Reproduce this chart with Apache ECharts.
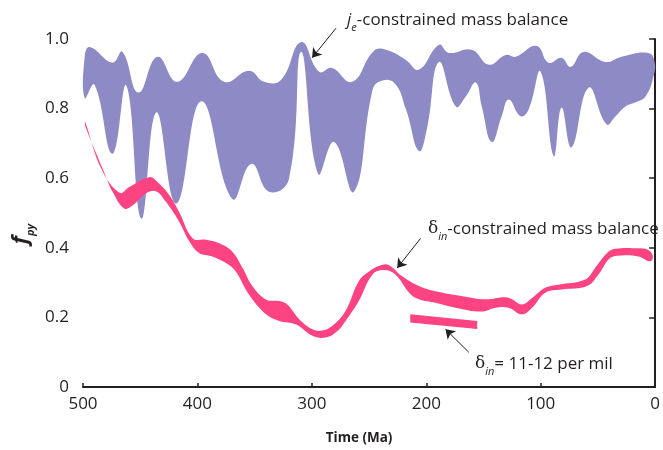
<!DOCTYPE html>
<html>
<head>
<meta charset="utf-8">
<script src="https://cdn.jsdelivr.net/npm/echarts@6/dist/echarts.min.js"></script>
<style>
  html, body { margin: 0; padding: 0; background: #fff; }
  #chart { width: 663px; height: 450px; }
</style>
</head>
<body>
<div id="chart"></div>
<script>
// axis ticks
const xTickLabels = ["0", "100", "200", "300", "400", "500"];
const yTickLabels = ["0", "0.2", "0.4", "0.6", "0.8", "1.0"];

// je-constrained mass balance band, [time Ma, f_py]
const jeUpper = [
  [498.5, 0.95], [494, 0.977], [474.3, 0.932], [465.5, 0.963], [451.6, 0.846],
  [435, 0.949], [417.6, 0.877], [395.8, 0.96], [376.6, 0.877], [354.8, 0.909],
  [341.7, 0.877], [326.8, 0.883], [309.4, 0.991], [293.7, 0.906], [282.4, 0.917],
  [264.9, 0.877], [246, 0.965], [235.3, 0.969], [217.8, 0.94], [206.5, 0.912],
  [189, 0.983], [180.3, 0.96], [160.3, 0.969], [145.4, 0.926], [130.6, 0.954],
  [121.9, 0.949], [103.6, 0.98], [93.1, 0.932], [81.8, 0.946], [73.9, 0.92],
  [62.6, 0.963], [43.4, 0.934], [29.4, 0.949], [5.9, 0.96], [0.5, 0.934]
];
const jeLower = [
  [498.5, 0.83], [490, 0.869], [474.3, 0.67], [462.1, 0.866], [449, 0.484],
  [435.9, 0.789], [418.4, 0.527], [396.6, 0.821], [369.6, 0.541], [353, 0.641],
  [337.4, 0.561], [320, 0.598], [309.4, 0.963], [294.6, 0.613], [280.6, 0.704],
  [263.2, 0.561], [247.5, 0.846], [241.3, 0.877], [228.3, 0.875], [217.8, 0.798],
  [206.5, 0.678], [199.5, 0.741], [189, 0.934], [174.2, 0.806], [165.5, 0.835],
  [156.7, 0.875], [151.5, 0.806], [142.8, 0.704], [134.1, 0.778], [128, 0.826],
  [117.5, 0.778], [110.5, 0.798], [100.1, 0.906], [88.7, 0.664], [81.8, 0.803],
  [73, 0.689], [58.2, 0.86], [42.5, 0.755], [34.6, 0.778], [25.9, 0.806],
  [17.2, 0.818], [8.4, 0.835], [1.5, 0.892]
];

// delta_in-constrained mass balance band
const dinUpper = [
  [498, 0.761], [484, 0.627], [468, 0.558], [459.5, 0.575], [442, 0.603],
  [435, 0.589], [424.5, 0.551], [416, 0.503], [404, 0.427], [392.5, 0.423],
  [381, 0.413], [369.5, 0.389], [360.5, 0.342], [352, 0.29], [340, 0.251],
  [328.5, 0.247], [321.5, 0.237], [311, 0.195], [299.5, 0.166], [291, 0.162],
  [282, 0.176], [270.5, 0.219], [259, 0.304], [250, 0.332], [238.5, 0.351],
  [232.5, 0.35], [221, 0.318], [206.5, 0.29], [192, 0.275], [168.5, 0.261],
  [148.5, 0.252], [131, 0.258], [125, 0.252], [116.5, 0.237], [107.5, 0.256],
  [96, 0.285], [84.5, 0.294], [61, 0.309], [52.5, 0.342], [42, 0.385],
  [35, 0.397], [17.5, 0.399], [6, 0.394], [2, 0.375]
];
const dinLower = [
  [498, 0.749], [481, 0.613], [474, 0.56], [464, 0.513], [456.5, 0.522],
  [445, 0.556], [436, 0.562], [427.5, 0.532], [416, 0.475], [407, 0.418],
  [398.5, 0.385], [387, 0.375], [375, 0.356], [366.5, 0.332], [355, 0.266],
  [340, 0.209], [328.5, 0.19], [314, 0.18], [299.5, 0.147], [288, 0.142],
  [279, 0.157], [270.5, 0.19], [259, 0.247], [247, 0.323], [237, 0.336],
  [227, 0.323], [215, 0.271], [206.5, 0.252], [192, 0.242], [174.5, 0.228],
  [151.5, 0.217], [139.5, 0.228], [128, 0.228], [116.5, 0.209], [107.5, 0.228],
  [96, 0.271], [81.5, 0.28], [59.5, 0.29], [49.5, 0.323], [39.5, 0.37],
  [29, 0.378], [14.5, 0.375], [4.5, 0.361]
];

// delta_in = 11-12 per mil
const dinFixedUpper = [[214, 0.209], [155.5, 0.19]];
const dinFixedLower = [[214, 0.185], [155.5, 0.167]];

// annotation arrows [from, to]
const arrows = [
  [[278.9, 1.031], [299.8, 0.946]],
  [[205, 0.427], [225.4, 0.342]],
  [[162.9, 0.1], [183.2, 0.166]]
];

const ink = "#231f20";
const font = "Open Sans";

function band(name, upper, lower, color, smooth) {
  const outline = upper.concat(lower.slice().reverse());
  return {
    name,
    type: "custom",
    coordinateSystem: "cartesian2d",
    silent: true,
    data: outline,
    encode: { x: 0, y: 1 },
    renderItem(params, api) {
      if (params.dataIndex !== 0) return null;
      return {
        type: "polygon",
        shape: { points: outline.map((p) => api.coord(p)), smooth },
        style: { fill: color }
      };
    }
  };
}

const chart = echarts.init(document.getElementById("chart"));

chart.setOption({
  animation: false,
  textStyle: { fontFamily: font },
  grid: { left: 83, right: 7, top: 39, bottom: 60 },
  xAxis: {
    type: "value",
    inverse: true,
    min: 0,
    max: 500,
    interval: 100,
    name: "Time (Ma)",
    nameLocation: "middle",
    nameGap: 44,
    nameTextStyle: {
      color: ink, fontSize: 13.5, fontWeight: "bold", fontFamily: font,
      padding: [0, 20, 0, 0]
    },
    axisLine: { lineStyle: { color: ink, width: 2 } },
    axisTick: { inside: true, length: 4, lineStyle: { color: ink, width: 1.5 } },
    axisLabel: {
      color: ink,
      fontSize: 17,
      margin: 9,
      formatter: (v) => xTickLabels[Math.round(v / 100)]
    },
    splitLine: { show: false }
  },
  yAxis: {
    type: "value",
    min: 0,
    max: 1,
    interval: 0.2,
    axisLine: { show: true, lineStyle: { color: ink, width: 2 } },
    axisTick: { show: true, length: 6, lineStyle: { color: ink, width: 1.5 } },
    axisLabel: {
      color: ink,
      fontSize: 17,
      margin: 14,
      formatter: (v) => yTickLabels[Math.round(v / 0.2)]
    },
    splitLine: { show: false }
  },
  graphic: [
    {
      type: "text",
      x: 21,
      y: 234,
      rotation: Math.PI / 2,
      style: {
        text: "{f|f}{s|py}",
        align: "center",
        verticalAlign: "middle",
        fill: ink,
        rich: {
          f: { fontSize: 22, fontWeight: "bold", fontStyle: "italic", fontFamily: font, fill: ink },
          s: { fontSize: 11, fontWeight: "bold", fontStyle: "italic", fontFamily: font, fill: ink, lineHeight: 30, verticalAlign: "bottom" }
        }
      }
    },
    {
      type: "text",
      x: 347,
      y: 20,
      style: {
        text: "{j|j}{s|e}-constrained mass balance",
        fontSize: 17,
        fontFamily: font,
        fill: ink,
        verticalAlign: "middle",
        rich: {
          j: { fontSize: 17, fontStyle: "italic", fontFamily: font, fill: ink },
          s: { fontSize: 11, fontStyle: "italic", fontFamily: font, fill: ink, lineHeight: 26, verticalAlign: "bottom" }
        }
      }
    },
    {
      type: "text",
      x: 428,
      y: 229,
      style: {
        text: "{d|δ}{s|in}-constrained mass balance",
        fontSize: 17,
        fontFamily: font,
        fill: ink,
        verticalAlign: "middle",
        rich: {
          d: { fontSize: 17, fontFamily: "DejaVu Serif", fill: ink },
          s: { fontSize: 11, fontStyle: "italic", fontFamily: font, fill: ink, lineHeight: 26, verticalAlign: "bottom" }
        }
      }
    },
    {
      type: "text",
      x: 475,
      y: 364,
      style: {
        text: "{d|δ}{s|in}= 11-12 per mil",
        fontSize: 17,
        fontFamily: font,
        fill: ink,
        verticalAlign: "middle",
        rich: {
          d: { fontSize: 17, fontFamily: "DejaVu Serif", fill: ink },
          s: { fontSize: 11, fontStyle: "italic", fontFamily: font, fill: ink, lineHeight: 26, verticalAlign: "bottom" }
        }
      }
    }
  ],
  series: [
    band("je-constrained", jeUpper, jeLower, "#8d8ac5", 0.45),
    band("din-constrained", dinUpper, dinLower, "#fe4382", 0.4),
    band("din 11-12", dinFixedUpper, dinFixedLower, "#fe4382", 0),
    {
      name: "arrows",
      type: "lines",
      coordinateSystem: "cartesian2d",
      silent: true,
      clip: false,
      symbol: ["none", "arrow"],
      symbolSize: [6, 9],
      lineStyle: { color: ink, width: 1, opacity: 1 },
      data: arrows.map((c) => ({ coords: c }))
    }
  ]
});
</script>
</body>
</html>
